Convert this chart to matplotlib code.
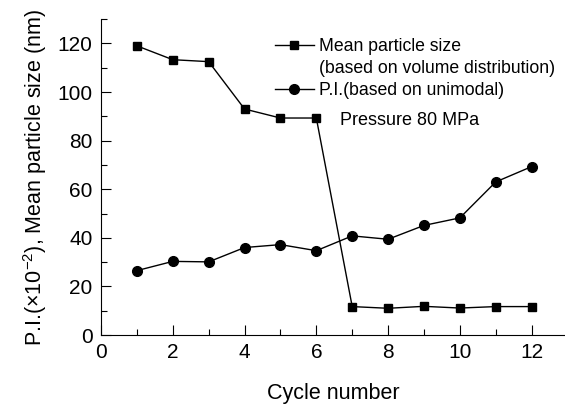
import matplotlib
matplotlib.use("Agg")
import matplotlib.pyplot as plt
from matplotlib.lines import Line2D
from matplotlib.ticker import MultipleLocator

plt.rcParams['font.family'] = ['Liberation Sans', 'DejaVu Sans']
plt.rcParams['mathtext.fontset'] = 'custom'
plt.rcParams['mathtext.rm'] = 'Liberation Sans'

cycles = [1, 2, 3, 4, 5, 6, 7, 8, 9, 10, 11, 12]
mean_size = [119.0, 113.3, 112.5, 93.0, 89.3, 89.3, 11.7, 11.0, 11.8, 11.1, 11.7, 11.7]
pi_values = [26.5, 30.3, 30.1, 36.0, 37.2, 34.7, 40.8, 39.4, 45.1, 48.2, 63.0, 69.3]
label_size = "Mean particle size"
label_size_2 = "(based on volume distribution)"
label_pi = "P.I.(based on unimodal)"

fig = plt.figure(figsize=(5.65, 4.05), dpi=100)
ax = fig.add_axes([0.1788, 0.1728, 0.8212, 0.780])

h1, = ax.plot(cycles, mean_size, '-s', color='black', lw=1, ms=6, label=label_size)
h2, = ax.plot(cycles, pi_values, '-o', color='black', lw=1, ms=7, label=label_pi)
blank = Line2D([], [], linestyle='none', marker=None)

ax.set_xlim(0, 12.93)
ax.set_ylim(0, 130)
ax.xaxis.set_major_locator(MultipleLocator(2))
ax.xaxis.set_minor_locator(MultipleLocator(1))
ax.yaxis.set_major_locator(MultipleLocator(20))
ax.yaxis.set_minor_locator(MultipleLocator(10))
ax.tick_params(which='both', direction='in', labelsize=15, width=0.8)
ax.tick_params(which='major', length=7, pad=6)
ax.tick_params(which='minor', length=4)
ax.spines['top'].set_visible(False)
ax.spines['right'].set_visible(False)

ax.set_xlabel("Cycle number", fontsize=15.5, labelpad=15)
ax.set_ylabel(r"P.I.($\times$10$^{-2}$), Mean particle size (nm)", fontsize=15.5, labelpad=6)

ax.text(6.66, 88.4, "Pressure 80 MPa", fontsize=13, va='center')

leg = ax.legend([h1, blank, h2], [label_size, label_size_2, label_pi],
                loc='upper left', bbox_to_anchor=(0.375, 0.94), frameon=False,
                fontsize=12.7, handlelength=2.2, handletextpad=0.3,
                labelspacing=0.28, borderaxespad=0.0, borderpad=0.0)

fig.savefig("out.png", dpi=100)
